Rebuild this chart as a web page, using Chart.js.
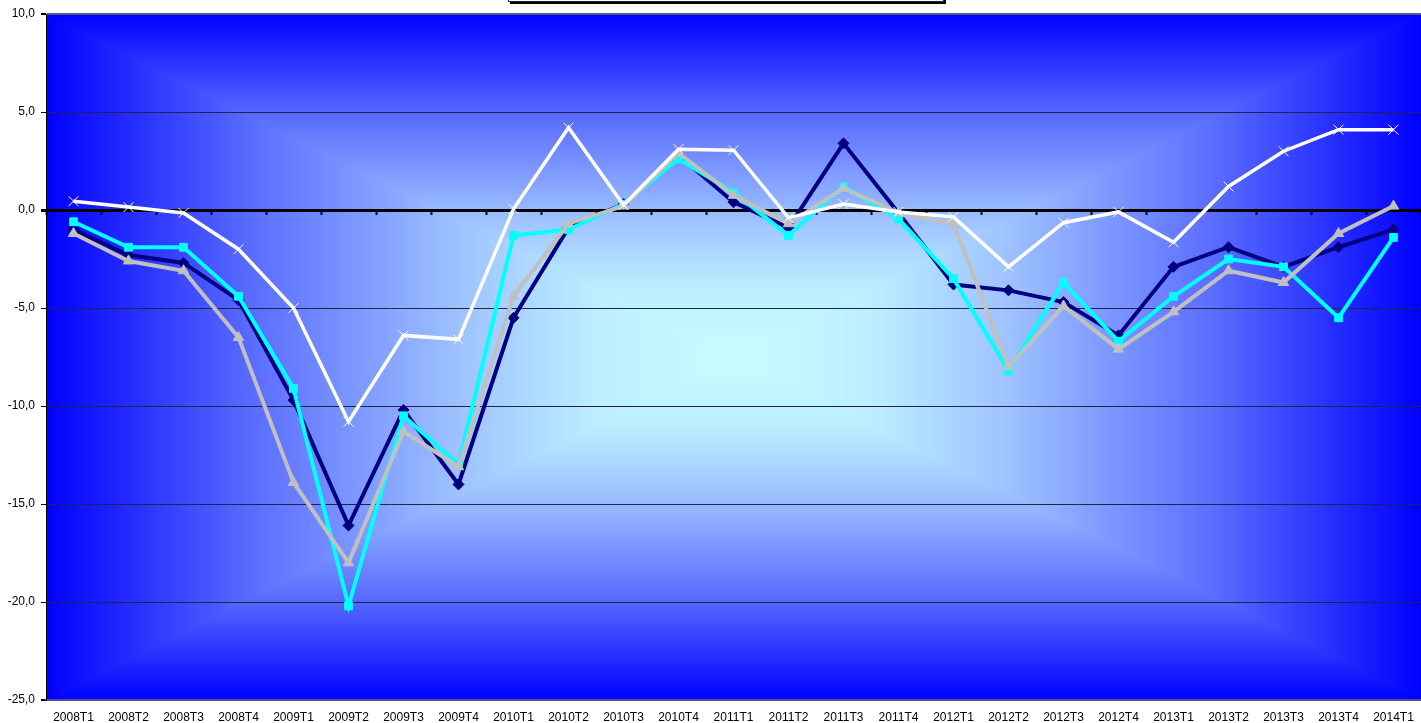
<!DOCTYPE html>
<html>
<head>
<meta charset="utf-8">
<script src="https://cdn.jsdelivr.net/npm/chart.js@4"></script>
<style>
    html, body { margin: 0; padding: 0; background: #fff; overflow: hidden; }
    #wrap { position: relative; width: 1421px; height: 723px; }
    #legendBox {
        position: absolute; left: 508px; top: -40px; width: 434px; height: 40px;
        border: 1px solid #222; background: #fff; box-shadow: 2px 2px 0 #000;
    }
</style>
</head>
<body>
<div id="wrap">
    <canvas id="chart" width="1421" height="723"></canvas>
    <div id="legendBox"></div>
</div>
<script>
// Data
const quarters = [
    '2008T1', '2008T2', '2008T3', '2008T4',
    '2009T1', '2009T2', '2009T3', '2009T4',
    '2010T1', '2010T2', '2010T3', '2010T4',
    '2011T1', '2011T2', '2011T3', '2011T4',
    '2012T1', '2012T2', '2012T3', '2012T4',
    '2013T1', '2013T2', '2013T3', '2013T4',
    '2014T1'
];
const navySeries = [
    -1.0, -2.3, -2.7, -4.6, -9.7, -16.1, -10.2, -14.0,
    -5.5, -0.9, 0.3, 2.8, 0.4, -0.9, 3.4, -0.15,
    -3.8, -4.1, -4.7, -6.4, -2.9, -1.9, -2.9, -1.9, -1.0
];
const cyanSeries = [
    -0.6, -1.9, -1.9, -4.4, -9.1, -20.2, -10.5, -13.0,
    -1.3, -1.0, 0.3, 2.6, 0.9, -1.3, 1.2, -0.45,
    -3.5, -8.2, -3.7, -6.7, -4.4, -2.5, -2.9, -5.5, -1.4
];
const graySeries = [
    -1.2, -2.6, -3.1, -6.5, -13.9, -18.0, -11.3, -13.1,
    -4.4, -0.7, 0.2, 2.9, 0.75, -0.7, 1.1, -0.15,
    -0.7, -8.0, -4.9, -7.1, -5.2, -3.1, -3.7, -1.2, 0.2
];
const whiteSeries = [
    0.45, 0.15, -0.15, -2.0, -5.0, -10.8, -6.4, -6.6,
    0.05, 4.2, 0.25, 3.1, 3.05, -0.4, 0.3, -0.1,
    -0.35, -2.9, -0.65, -0.1, -1.65, 1.2, 3.0, 4.1, 4.1
];
const yMin = -25;
const yMax = 10;
const yStep = 5;

const FONT = "'Liberation Sans', Arial, sans-serif";

// gradient colour stops: 0 = plot edge, 1 = plot centre
const gradientStops = [
    [0, [0, 0, 255]], [0.3, [90, 108, 255]], [0.6, [158, 194, 255]],
    [0.8, [188, 238, 255]], [1, [200, 253, 255]]
];

function gradientColor(t) {
    for (let i = 1; i < gradientStops.length; i++) {
        const [p1, c1] = gradientStops[i];
        const [p0, c0] = gradientStops[i - 1];
        if (t <= p1) {
            const k = (t - p0) / (p1 - p0);
            return c0.map((v, j) => v + (c1[j] - v) * k);
        }
    }
    return gradientStops[gradientStops.length - 1][1];
}

// Excel-like "from centre" rectangular gradient of the plot area
const plotBackground = {
    id: 'plotBackground',
    beforeDraw(chart) {
        const { ctx, chartArea } = chart;
        const left = Math.round(chartArea.left);
        const top = Math.round(chartArea.top);
        const w = Math.round(chartArea.right) - left;
        const h = Math.round(chartArea.bottom) - top;
        const img = ctx.createImageData(w, h);
        const hw = w / 2, hh = h / 2;
        for (let y = 0; y < h; y++) {
            const ty = Math.abs(y + 0.5 - hh) / hh;
            for (let x = 0; x < w; x++) {
                const tx = Math.abs(x + 0.5 - hw) / hw;
                const c = gradientColor(1 - Math.max(tx, ty));
                const i = (y * w + x) * 4;
                img.data[i] = c[0];
                img.data[i + 1] = c[1];
                img.data[i + 2] = c[2];
                img.data[i + 3] = 255;
            }
        }
        ctx.putImageData(img, left, top);
    }
};

function series(data, color, style, radius, order, lineWidth) {
    return {
        data: data,
        borderColor: color,
        backgroundColor: color,
        pointBackgroundColor: color,
        pointBorderColor: color,
        pointStyle: style,
        pointRadius: radius,
        pointBorderWidth: 1,
        borderWidth: lineWidth,
        tension: 0,
        fill: false,
        order: order
    };
}

const ctx = document.getElementById('chart').getContext('2d');
new Chart(ctx, {
    type: 'line',
    data: {
        labels: quarters,
        datasets: [
            series(navySeries, '#000080', 'rectRot', 5.5, 4, 4),
            series(cyanSeries, '#00ffff', 'rect', 5.5, 3, 4),
            series(graySeries, '#c0c0c0', 'triangle', 6, 2, 4),
            series(whiteSeries, '#ffffff', 'crossRot', 7, 1, 3.5)
        ]
    },
    options: {
        responsive: false,
        animation: false,
        devicePixelRatio: 1,
        layout: {
            autoPadding: false,
            padding: { top: 14, right: 0, left: 0, bottom: 0 }
        },
        plugins: {
            legend: { display: false },
            tooltip: { enabled: false }
        },
        scales: {
            x: {
                type: 'category',
                position: 'bottom',
                offset: true,
                grid: { display: false, drawTicks: false },
                border: { display: true, color: '#50508a', width: 2 },
                ticks: {
                    font: { family: FONT, size: 12 },
                    color: '#000',
                    padding: 10,
                    maxRotation: 0,
                    autoSkip: false
                },
                afterFit(scale) {
                    scale.height = 23;
                    scale.paddingLeft = 0;
                    scale.paddingRight = 0;
                }
            },
            x2: {
                type: 'category',
                labels: quarters,
                position: { y: 0 },
                offset: true,
                grid: {
                    offset: true,
                    drawOnChartArea: false,
                    drawTicks: true,
                    tickLength: 5,
                    tickColor: '#000',
                    tickWidth: 2,
                    color: '#000'
                },
                border: { display: false },
                ticks: { display: false, autoSkip: false },
                afterFit(scale) {
                    scale.paddingLeft = 0;
                    scale.paddingRight = 0;
                }
            },
            y: {
                min: yMin,
                max: yMax,
                ticks: {
                    stepSize: yStep,
                    font: { family: FONT, size: 12 },
                    color: '#000',
                    padding: 6,
                    callback: v => v.toFixed(1).replace('.', ',')
                },
                grid: {
                    drawTicks: true,
                    tickLength: 5,
                    tickColor: '#000',
                    color: c => {
                        const v = c.tick.value;
                        if (v === 0) return '#000';
                        if (v === yMax || v === yMin) return '#5a5a8a';
                        return '#22224a';
                    },
                    lineWidth: c => {
                        const v = c.tick.value;
                        if (v === 0) return 3;
                        if (v === yMax || v === yMin) return 2;
                        return 1;
                    }
                },
                border: { display: true, color: '#000', width: 1 },
                afterFit(scale) {
                    scale.width = 46;
                }
            }
        }
    },
    plugins: [plotBackground]
});
</script>
</body>
</html>
